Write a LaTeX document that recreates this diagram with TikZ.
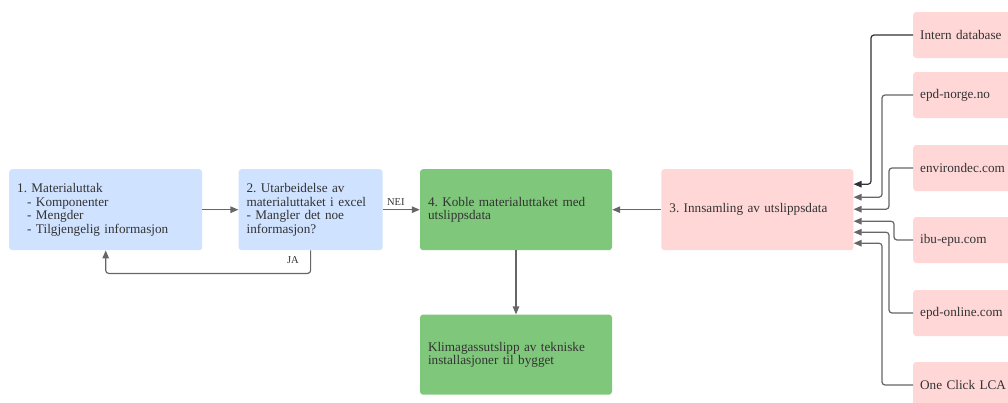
\documentclass[tikz,border=0pt]{standalone}
\usepackage{fontspec}
\setmainfont{Liberation Serif}
\usetikzlibrary{arrows.meta,positioning}
\definecolor{lcblue}{HTML}{CFE2FF}
\definecolor{lcgreen}{HTML}{7FC77A}
\definecolor{lcpink}{HTML}{FFD7D7}
\definecolor{linegray}{HTML}{666666}
\definecolor{linedark}{HTML}{2E3138}
\definecolor{textgray}{HTML}{333333}
\frenchspacing

\begin{document}
\begin{tikzpicture}[x=1pt, y=-1pt, font=\fontsize{13.2}{13.5}\selectfont, >={Triangle[length=8pt,width=6.5pt]},
  node distance=36pt,
  box/.style={fill=#1, rounded corners=3pt, align=left, inner xsep=8pt, text=textgray, anchor=north west},
  source/.style={box=lcpink, anchor=west, minimum height=46pt, text width=120pt, inner xsep=7pt},
  link/.style={->, line width=1.2pt, draw=linegray, rounded corners=3pt},
  tag/.style={font=\fontsize{10.5}{11}\selectfont, text=textgray}]
  \clip (0,0) rectangle (1008,402);
  % main row
  \node[box=lcblue, text width=177pt, minimum height=81pt] (uttak) at (9,169)
    {1. Materialuttak\\\hspace*{10pt}- Komponenter\\\hspace*{10pt}- Mengder\\\hspace*{10pt}- Tilgjengelig informasjon};
  \node[box=lcblue, text width=128pt, minimum height=81pt, right=36pt of uttak] (excel)
    {2. Utarbeidelse av\\materialuttaket i excel\\- Mangler det noe\\informasjon?};
  \node[box=lcgreen, text width=176pt, minimum height=81pt, right=37pt of excel] (koble)
    {4. Koble materialuttaket med\\utslippsdata};
  \node[box=lcpink, text width=176pt, minimum height=81pt, right=49pt of koble] (innsamling)
    {3. Innsamling av utslippsdata};
  \node[box=lcgreen, text width=176pt, minimum height=80pt, below=64pt of koble] (klima)
    {Klimagassutslipp av tekniske\\installasjoner til bygget};
  % data sources
  \node[source] (intern) at (913,35) {Intern database};
  \node[source] (epdnorge) at (913,95) {epd-norge.no};
  \node[source] (environdec) at (913,168) {environdec.com};
  \node[source] (ibu) at (913,240) {ibu-epu.com};
  \node[source] (epdonline) at (913,313) {epd-online.com};
  \node[source] (oneclick) at (913,385) {One Click LCA};
  % connectors
  \draw[link] (uttak) -- (excel);
  \draw[link] (excel) -- node[tag, above, pos=0.35] {NEI} (koble);
  \draw[link] (excel.south) -- node[tag, left, pos=0.4, xshift=-8pt] {JA} ++(0,23) -| (uttak.south);
  \draw[link] (innsamling) -- (koble);
  \draw[link] (koble) -- (klima);
  \draw[link, draw=linedark] (intern.west) -- ++(-42,0) |- ([yshift=25.5pt]innsamling.east);
  \draw[link] (epdnorge.west) -- ++(-31,0) |- ([yshift=12.5pt]innsamling.east);
  \draw[link] (environdec.west) -- ++(-24,0) |- ([yshift=0.5pt]innsamling.east);
  \draw[link] (ibu.west) -- ++(-19,0) |- ([yshift=-11.5pt]innsamling.east);
  \draw[link] (epdonline.west) -- ++(-24,0) |- ([yshift=-22.5pt]innsamling.east);
  \draw[link] (oneclick.west) -- ++(-31,0) |- ([yshift=-33.5pt]innsamling.east);
\end{tikzpicture}
\end{document}
